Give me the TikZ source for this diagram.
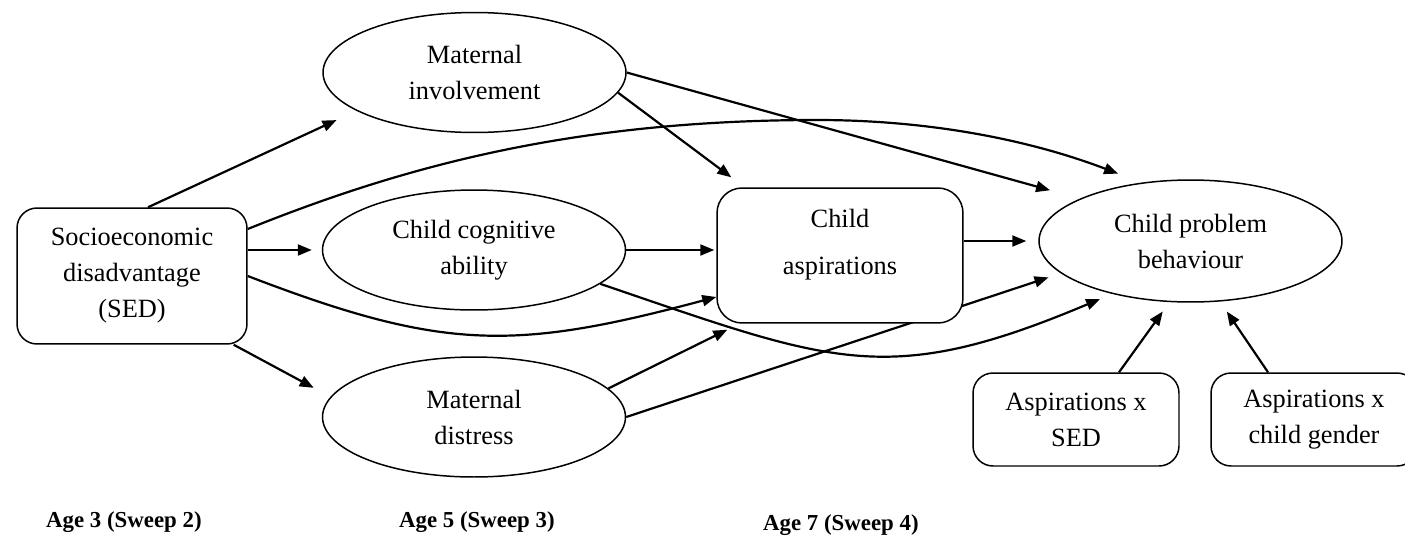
\documentclass[tikz,border=0pt]{standalone}
\usepackage{fontspec}
\setmainfont{Liberation Serif}
\usetikzlibrary{arrows.meta,shapes.geometric,backgrounds}
\begin{document}
\begin{tikzpicture}[x=0.02cm,y=-0.02cm,
  every node/.style={font=\fontsize{15}{20.5}\selectfont,align=center},
  oval/.style={draw,ellipse,line width=.85pt,fill=white,minimum width=6.06cm,minimum height=2.4cm,inner sep=0pt},
  box/.style={draw,rounded corners=.4cm,line width=.85pt,fill=white,inner sep=0pt},
  arr/.style={line width=1.25pt,-{Triangle[length=.28cm,width=.22cm]}},
  age/.style={anchor=west,font=\fontsize{13}{15}\selectfont\bfseries}]
\useasboundingbox (0,0) rectangle (1405,555);

\node[box,minimum width=4.6cm,minimum height=2.72cm] (sed) at (132,276) {Socioeconomic\\disadvantage\\(SED)};
\node[oval] (mi) at (474.5,72.5) {Maternal\\involvement};
\node[oval] (cog) at (474,250) {Child cognitive\\ability};
\node[oval] (md) at (474,417) {Maternal\\distress};
\node[box,rounded corners=.5cm,minimum width=4.92cm,minimum height=2.7cm] (asp) at (840,255.5) {};
\node (asptxt) at (840,244.5) {Child\\[.22cm]aspirations};
\node[oval,minimum height=2.44cm] (cpb) at (1190.5,241) {Child problem\\behaviour};
\node[box,minimum width=4.12cm,minimum height=1.86cm] (ased) at (1076,419.5) {Aspirations x\\SED};
\node[box,minimum width=4.12cm,minimum height=1.86cm] (agen) at (1314,419.5) {Aspirations x\\child gender};

\node[age] (age3) at (40,522) {Age 3 (Sweep 2)};
\node[age] (age5) at (393,522) {Age 5 (Sweep 3)};
\node[age] (age7) at (757,525) {Age 7 (Sweep 4)};

\begin{scope}[on background layer]
\draw[arr,shorten >=.44cm] ([xshift=.32cm]sed.north) -- (mi.198);
\draw[arr,shorten >=.2cm] (sed.east |- cog.west) -- (cog.west);
\draw[arr,shorten >=.38cm] ([xshift=-.28cm]sed.south east) -- (md.172);
\draw[arr,shorten >=.5cm] ([yshift=.94cm]sed.east) .. controls (397,169) and (567,120) .. (817,120) .. controls (930,120) and (1030,140) .. (cpb.130);
\draw[arr] (sed.east) .. controls (443,351) and (514,351) .. ([yshift=-.83cm]asp.west);
\draw[arr] (mi.-8) -- ([shift={(.3cm,.2cm)}]asp.north west);
\draw[arr,shorten >=.62cm] (mi.east) -- (cpb.159);
\draw[arr,shorten >=.04cm] (cog.east) -- (cog.east -| asp.west);
\draw[arr,shorten >=.26cm] (cog.-15) .. controls (832.6,363) and (886.5,389) .. (cpb.214);
\draw[arr] (md.12) -- ([shift={(.22cm,-.12cm)}]asp.south west);
\draw[arr,shorten >=.26cm] (md.east) -- (cpb.194);
\draw[arr,shorten >=.24cm] (asp.east |- cpb.west) -- (cpb.west);
\draw[arr,shorten >=.23cm] ([xshift=.86cm]ased.north) -- (cpb.251);
\draw[arr,shorten >=.24cm] ([xshift=-.92cm]agen.north) -- (cpb.296);
\end{scope}
\end{tikzpicture}
\end{document}
